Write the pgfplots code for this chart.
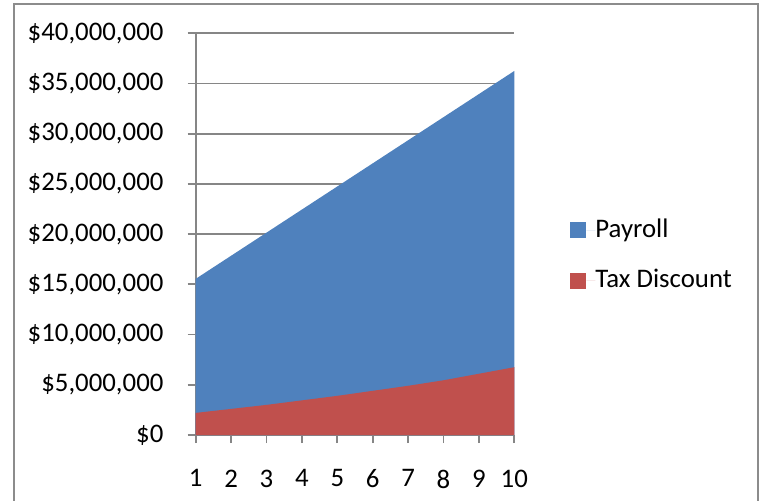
\documentclass[border=0pt]{standalone}
\usepackage{fontspec}
\setmainfont{Carlito}
\usepackage{pgfplots}
\pgfplotsset{compat=1.18}

\definecolor{xlblue}{HTML}{4F81BD}
\definecolor{xlred}{HTML}{C0504D}
\definecolor{xlgrid}{HTML}{868686}
\definecolor{xlframe}{HTML}{8C8C8C}

\begin{document}
\fontsize{13.4bp}{16bp}\selectfont
\begin{tikzpicture}
  % page = reference picture, 1 px = 0.5bp, origin top left
  \begin{scope}[x=0.5bp, y=-0.5bp]
    \path[use as bounding box] (0,0) rectangle (766,501);
    \draw[xlframe, line width=1bp] (14,520) -- (14,4.3) -- (758.3,4.3) -- (758.3,520);
  \end{scope}

  \begin{axis}[
      at={(97.85bp,-217.5bp)}, anchor=origin,
      scale only axis,
      width=159.3bp, height=200.85bp,
      xmin=1, xmax=10, ymin=0, ymax=40000000,
      xtick={1,...,10},
      ytick={0,5000000,...,40000000},
      scaled y ticks=false,
      axis x line*=bottom, axis y line*=left,
      axis line style={xlgrid, line width=0.9bp, -},
      tick style={xlgrid, line width=0.9bp},
      tick align=outside,
      major tick length=4bp,
      ymajorgrids,
      grid style={xlgrid, line width=0.9bp},
      /pgf/number format/assume math mode=true,
      yticklabel={\$\pgfmathprintnumber[fixed, precision=0, 1000 sep={,}]{\tick}},
      yticklabel style={font=\fontsize{13.4bp}{16bp}\selectfont, xshift=-7.5bp},
      xticklabel style={font=\fontsize{13.4bp}{16bp}\selectfont, yshift=-8.7bp},
      legend style={
        at={(1.1748,0.447)}, anchor=west,
        draw=none, fill=none, inner sep=0pt, row sep=14bp,
        font=\fontsize{13.4bp}{16bp}\selectfont,
        nodes={inner sep=0pt, anchor=west},
      },
      legend cell align=left,
      legend image code/.code={
        \fill[#1] (0bp,-4bp) rectangle (8bp,4bp);
        \path (8bp,0) -- (12.5bp,0);
      },
    ]
    % Payroll
    \addplot[fill=xlblue, draw=none] coordinates {
      (1,15550000) (2,17850000) (3,20150000) (4,22450000) (5,24750000)
      (6,27050000) (7,29350000) (8,31650000) (9,33950000) (10,36250000)
    } \closedcycle;
    \addlegendentry{Payroll}
    % Tax Discount
    \addplot[fill=xlred, draw=none] coordinates {
      (1,2200000) (2,2600000) (3,3000000) (4,3450000) (5,3900000)
      (6,4400000) (7,4900000) (8,5450000) (9,6100000) (10,6750000)
    } \closedcycle;
    \addlegendentry{Tax Discount}
  \end{axis}
\end{tikzpicture}
\end{document}
